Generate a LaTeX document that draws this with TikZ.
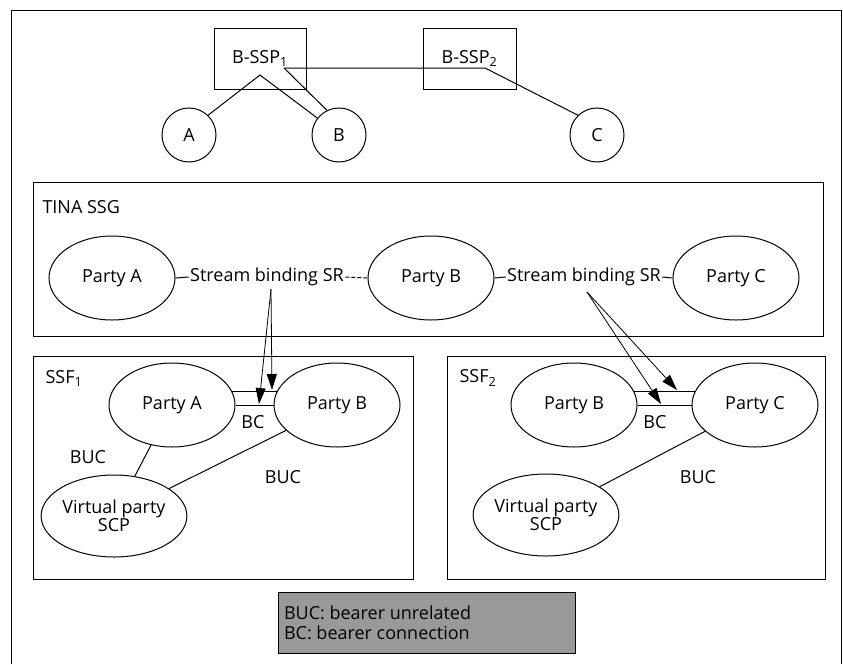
\documentclass[tikz,border=0pt]{standalone}
\usepackage{fontspec}
\setmainfont{Open Sans}
\usetikzlibrary{arrows.meta,calc,shapes.geometric}
\begin{document}
\begin{tikzpicture}[x=1pt,y=-1pt,line width=1pt,
  every node/.style={font=\fontsize{18}{20}\selectfont},
  circ/.style={draw, circle, minimum size=54pt, inner sep=0pt},
  ell/.style={draw, ellipse, minimum width=126pt, minimum height=84pt, inner sep=0pt},
  box/.style={draw, rectangle, inner sep=0pt},
  lbl/.style={inner sep=0pt},
  arr/.style={-{Triangle[length=16pt,width=10pt]}, line width=0.8pt},
  sbind/.style={inner sep=1pt}
]
\useasboundingbox (0,0) rectangle (843,664);
% outer frame (open at the bottom)
\draw (11,664) -- (11,10) -- (841,10) -- (841,664);

% ---- top: B-SSP boxes and terminals
\node[box, minimum width=92pt, minimum height=61pt] (ssp1) at (260,58.5) {B-SSP\textsubscript{1}};
\node[box, minimum width=93pt, minimum height=61pt] (ssp2) at (469.5,58.5) {B-SSP\textsubscript{2}};
\node[circ] (A) at (189,135) {A};
\node[circ] (B) at (339,135) {B};
\node[circ] (C) at (597,135) {C};
\coordinate (apex) at (260,75);
\coordinate (j1) at (284,68);
\coordinate (j2) at (485,68);
\draw (A.46) -- (apex) -- (B.142);
\draw (j1) -- (B.116);
\draw (j1) -- (j2) -- (C.134);

% ---- TINA SSG
\node[box, minimum width=790pt, minimum height=154pt] (tina) at (428,259) {};
\node[lbl, anchor=west] (tinalbl) at (42,207) {TINA SSG};
\node[ell] (tA) at (112,278) {Party A};
\node[ell] (tB) at (431,278) {Party B};
\node[ell] (tC) at (736,278) {Party C};
\node[sbind] (s1) at (267,277) {Stream binding SR};
\node[sbind] (s2) at (584,277) {Stream binding SR};
\draw (tA.east) -- (s1.west);
\draw[dash pattern=on 4pt off 2pt] (s1.east) -- (tB.west);
\draw (tB.east) -- (s2.west);
\draw (s2.east) -- (tC.west);
\coordinate (a1) at (271,289);
\coordinate (a2) at (587,292);

% ---- SSF1
\node[box, minimum width=380pt, minimum height=223pt] (ssf1) at (223,467.5) {};
\node[lbl, anchor=west] (ssf1lbl) at (45,378) {SSF\textsubscript{1}};
\node[ell] (fA) at (172,405) {Party A};
\node[ell] (fB) at (337,405) {Party B};
\node[ell, minimum width=124pt, minimum height=82pt, align=center] (v1) at (114,516) {Virtual party\\[-2pt]SCP};
\draw (fA.13) -- (fB.167);
\draw (fA.east) -- (fB.west);
\draw (fA) -- (v1);
\draw (fB) -- (v1);
\node[lbl] (bc1) at (253,422) {BC};
\node[lbl] (buc1) at (88,457) {BUC};
\node[lbl] (buc2) at (283,477) {BUC};
\coordinate (t1) at (259,404);
\coordinate (t2) at (272,390);
\draw[arr] (a1) -- (t1);
\draw[arr] (a1) -- (t2);

% ---- SSF2
\node[box, minimum width=378pt, minimum height=223pt] (ssf2) at (636,467.5) {};
\node[lbl, anchor=west] (ssf2lbl) at (459,378) {SSF\textsubscript{2}};
\node[ell] (sB) at (574,405) {Party B};
\node[ell] (sC) at (755,405) {Party C};
\node[ell, minimum width=124pt, minimum height=82pt, align=center] (v2) at (546,515) {Virtual party\\[-2pt]SCP};
\draw (sB.13) -- (sC.167);
\draw (sB.east) -- (sC.west);
\draw (sC) -- (v2);
\node[lbl] (bc2) at (655,422) {BC};
\node[lbl] (buc3) at (698,477) {BUC};
\coordinate (t3) at (661,404);
\coordinate (t4) at (677,390);
\draw[arr] (a2) -- (t3);
\draw[arr] (a2) -- (t4);

% ---- legend
\node[box, fill=black!40, minimum width=297pt, minimum height=61pt] (legend) at (426.5,622.5) {};
\node[lbl, anchor=west, align=left] (legtext) at ($(legend.west)+(6,0)$) {BUC: bearer unrelated\\BC: bearer connection};
\end{tikzpicture}
\end{document}
